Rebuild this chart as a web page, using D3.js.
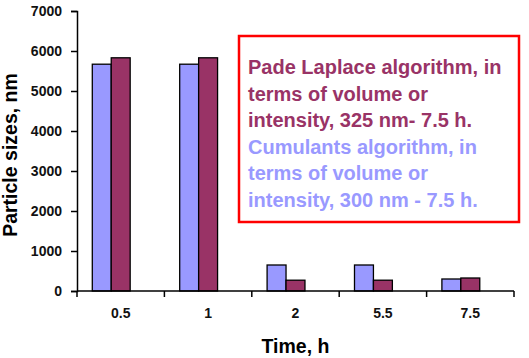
<!DOCTYPE html>
<html><head><meta charset="utf-8">
<script src="https://cdn.jsdelivr.net/npm/d3@7"></script>
<style>body{margin:0;background:#fff;}svg{display:block;font-family:"Liberation Sans",Arial,sans-serif;}</style>
</head><body><svg id="c" width="529" height="358"></svg>
<script>
const categories = ["0.5","1","2","5.5","7.5"];
const cumulants = [5670, 5670, 650, 650, 300];
const padeLaplace = [5830, 5830, 270, 270, 325];
const yTicks = [0,1000,2000,3000,4000,5000,6000,7000];
const seriesNames = ["Cumulants","Pade Laplace","(empty)"];
const seriesValues = [cumulants, padeLaplace];
const seriesColors = ["#9999FF","#993366"];
const legendLines = [
  {t:"Pade Laplace algorithm, in", s:1},
  {t:"terms of volume or", s:1},
  {t:"intensity, 325 nm- 7.5 h.", s:1},
  {t:"Cumulants algorithm, in", s:0},
  {t:"terms of volume or", s:0},
  {t:"intensity, 300 nm - 7.5 h.", s:0}
];

const svg = d3.select("#c");
const L=77, R=514, T=11, B=291;
const x0 = d3.scaleBand().domain(categories).range([L,R]).paddingInner(0.35).paddingOuter(0.175);
const x1 = d3.scaleBand().domain(seriesNames).range([0, x0.bandwidth()]);
const y = d3.scaleLinear().domain([0,7000]).range([B,T]);

// bars
seriesValues.forEach((vals,si)=>{
  svg.append("g").selectAll("rect").data(vals).join("rect")
    .attr("x",(d,i)=>x0(categories[i])+x1(seriesNames[si]))
    .attr("y",d=>y(d))
    .attr("width",x1.bandwidth())
    .attr("height",d=>B-y(d))
    .attr("fill",seriesColors[si])
    .attr("stroke","#000").attr("stroke-width",1.3);
});

// y axis
const ya = svg.append("g").attr("transform",`translate(${L},0)`)
  .call(d3.axisLeft(y).tickValues(yTicks).tickSize(6).tickPadding(9).tickFormat(d3.format("d")));
ya.select(".domain").attr("stroke","#000").attr("stroke-width",1.5);
ya.selectAll(".tick line").attr("stroke","#000").attr("stroke-width",1.5);
ya.selectAll("text").attr("font-size",14).attr("font-weight","bold").attr("fill","#111");

// x axis
const xa = svg.append("g").attr("transform",`translate(0,${B})`);
xa.append("line").attr("x1",L).attr("x2",R).attr("y1",0).attr("y2",0).attr("stroke","#000").attr("stroke-width",1.5);
const step = (R-L)/categories.length;
const bounds = d3.range(categories.length+1).map(i=>L+i*step);
xa.selectAll(".tk").data(bounds).join("line").attr("x1",d=>d).attr("x2",d=>d).attr("y1",0).attr("y2",6)
  .attr("stroke","#000").attr("stroke-width",1.5);
xa.selectAll(".lb").data(categories).join("text")
  .attr("x",d=>x0(d)+x0.bandwidth()/2).attr("y",27)
  .attr("text-anchor","middle").attr("font-size",14).attr("font-weight","bold").attr("fill","#111").text(d=>d);

// axis titles
svg.append("text").attr("x",(L+R)/2).attr("y",352.5).attr("text-anchor","middle")
  .attr("font-size",19.5).attr("font-weight","bold").attr("fill","#000").text("Time, h");
svg.append("text").attr("transform",`translate(16.5,155) rotate(-90)`).attr("text-anchor","middle")
  .attr("font-size",19.5).attr("font-weight","bold").attr("fill","#000").text("Particle sizes, nm");

// legend box
svg.append("rect").attr("x",239).attr("y",36).attr("width",280).attr("height",186)
  .attr("fill","#fff").attr("stroke","#FF0000").attr("stroke-width",2.5);
svg.append("g").selectAll("text").data(legendLines).join("text")
  .attr("x",248).attr("y",(d,i)=>74+i*26.6)
  .attr("font-size",20).attr("font-weight","bold")
  .attr("fill",d=>seriesColors[d.s]).text(d=>d.t);
</script></body></html>
